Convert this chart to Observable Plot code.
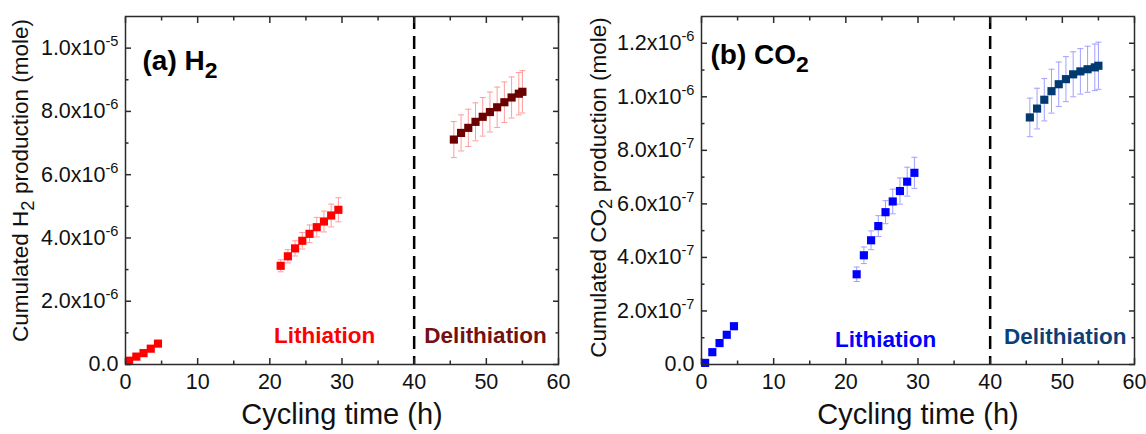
<!DOCTYPE html>
<html><head><meta charset="utf-8">
<script src="https://cdn.jsdelivr.net/npm/d3@7"></script>
<script src="https://cdn.jsdelivr.net/npm/@observablehq/plot@0.6"></script>
<style>
html,body{margin:0;padding:0;background:#fff}
#wrap{display:flex;width:1146px;height:434px;overflow:hidden}
</style>
</head><body><div id="wrap"></div>
<script>
// ---------- data ----------
const xTicksMajor = [0, 10, 20, 30, 40, 50, 60];
const xTicksMinor = [5, 15, 25, 35, 45, 55];
const phaseBoundary = 40;

// (a) H2
const h2TimeStart = [0.5, 1.5, 2.5, 3.5, 4.5];
const h2ValStart  = [1.2e-7, 2.5e-7, 3.6e-7, 5.0e-7, 6.6e-7];
const h2ErrStart  = [1e-8, 2e-8, 2e-8, 3e-8, 3e-8];
const h2TimeLith  = [21.5, 22.5, 23.5, 24.5, 25.5, 26.5, 27.5, 28.5, 29.5];
const h2ValLith   = [3.12e-6, 3.42e-6, 3.67e-6, 3.91e-6, 4.13e-6, 4.34e-6, 4.52e-6, 4.71e-6, 4.89e-6];
const h2ErrLith   = [0.19e-6, 0.21e-6, 0.24e-6, 0.26e-6, 0.28e-6, 0.31e-6, 0.33e-6, 0.36e-6, 0.38e-6];
const h2TimeDelith = [45.5, 46.5, 47.5, 48.5, 49.5, 50.5, 51.5, 52.5, 53.5, 54.5, 55.0];
const h2ValDelith  = [7.11e-6, 7.32e-6, 7.48e-6, 7.67e-6, 7.83e-6, 7.98e-6, 8.13e-6, 8.29e-6, 8.44e-6, 8.56e-6, 8.62e-6];
const h2ErrDelith  = [0.57e-6, 0.57e-6, 0.59e-6, 0.60e-6, 0.61e-6, 0.63e-6, 0.64e-6, 0.64e-6, 0.65e-6, 0.67e-6, 0.67e-6];
const h2YDomain = [0, 1.1e-5];
const h2YMajor = [0, 2e-6, 4e-6, 6e-6, 8e-6, 1e-5];
const h2YMinor = [1e-6, 3e-6, 5e-6, 7e-6, 9e-6];
const h2Title = "(a) H_{2}";
const h2YLabel = "Cumulated H_{2} production (mole)";
const h2Notes = [
  {x: 27.6, y: 0.92e-6, label: "Lithiation", phase: "lith"},
  {x: 49.9, y: 0.92e-6, label: "Delithiation", phase: "delith"}
];

// (b) CO2
const co2TimeStart = [0.5, 1.5, 2.5, 3.5, 4.5];
const co2ValStart  = [6e-9, 4.6e-8, 8.0e-8, 1.11e-7, 1.43e-7];
const co2ErrStart  = [2e-9, 3e-9, 3e-9, 4e-9, 4e-9];
const co2TimeLith  = [21.5, 22.5, 23.5, 24.5, 25.5, 26.5, 27.5, 28.5, 29.5];
const co2ValLith   = [3.37e-7, 4.08e-7, 4.64e-7, 5.17e-7, 5.69e-7, 6.09e-7, 6.48e-7, 6.83e-7, 7.16e-7];
const co2ErrLith   = [0.27e-7, 0.31e-7, 0.35e-7, 0.39e-7, 0.43e-7, 0.46e-7, 0.49e-7, 0.54e-7, 0.58e-7];
const co2TimeDelith = [45.5, 46.5, 47.5, 48.5, 49.5, 50.5, 51.5, 52.5, 53.5, 54.5, 55.0];
const co2ValDelith  = [9.23e-7, 9.56e-7, 9.89e-7, 10.21e-7, 10.47e-7, 10.66e-7, 10.84e-7, 10.95e-7, 11.03e-7, 11.10e-7, 11.16e-7];
const co2ErrDelith  = [0.72e-7, 0.76e-7, 0.79e-7, 0.82e-7, 0.83e-7, 0.84e-7, 0.84e-7, 0.85e-7, 0.86e-7, 0.87e-7, 0.88e-7];
const co2YDomain = [0, 1.3e-6];
const co2YMajor = [0, 2e-7, 4e-7, 6e-7, 8e-7, 1.0e-6, 1.2e-6];
const co2YMinor = [1e-7, 3e-7, 5e-7, 7e-7, 9e-7, 1.1e-6];
const co2Title = "(b) CO_{2}";
const co2YLabel = "Cumulated CO_{2} production (mole)";
const co2Notes = [
  {x: 25.5, y: 0.93e-7, label: "Lithiation", phase: "lith"},
  {x: 50.4, y: 1.02e-7, label: "Delithiation", phase: "delith"}
];
const xLabel = "Cycling time (h)";

// ---------- helpers ----------
const zip = (t, v, e, phase) => t.map((d, i) => ({t: d, v: v[i], e: e[i], phase}));
const FONT = '"Liberation Sans", Arial, Helvetica, sans-serif';
const INK = "#2b2b2b";

function sciFormat(d) {
  if (d === 0) return "0.0";
  const e = Math.floor(Math.log10(d) + 1e-9);
  const m = d / Math.pow(10, e);
  return `${m.toFixed(1)}x10^{${e}}`;
}

const capSymbol = {
  draw(ctx, size) {
    const w = Math.sqrt(size / Math.PI);
    ctx.moveTo(-w, 0); ctx.lineTo(w, 0);
  }
};

function richify(svg) {
  const NS = "http://www.w3.org/2000/svg";
  svg.querySelectorAll("text").forEach(t => {
    if (t.querySelector("tspan")) return;
    const s = t.textContent;
    if (!/[_^]\{/.test(s)) return;
    const parts = s.split(/([_^]\{[^}]*\})/).filter(p => p);
    while (t.firstChild) t.removeChild(t.firstChild);
    let shift = 0;
    parts.forEach(p => {
      const ts = document.createElementNS(NS, "tspan");
      let target = 0, scale = 1, txt = p;
      if (p.startsWith("_{")) { target = 0.28; scale = 0.82; txt = p.slice(2, -1); }
      else if (p.startsWith("^{")) { target = -0.42; scale = 0.68; txt = p.slice(2, -1); }
      const delta = target - shift;
      if (delta) ts.setAttribute("dy", (delta / scale).toFixed(3) + "em");
      if (scale !== 1) ts.setAttribute("font-size", scale + "em");
      ts.textContent = txt;
      shift = target;
      t.appendChild(ts);
    });
  });
}

function panel(cfg) {
  const all = [...cfg.start, ...cfg.lith, ...cfg.delith];
  const colorOf = d => d.phase === "delith" ? cfg.delithColor : cfg.lithColor;
  const noteColor = d => d.phase === "delith" ? cfg.delithText : cfg.lithColor;
  const tickStyle = {stroke: INK, strokeWidth: 1.5, label: null};
  const svg = Plot.plot({
    width: 573, height: 434,
    marginLeft: cfg.ml, marginRight: cfg.mr, marginTop: 16, marginBottom: 70,
    style: {fontFamily: FONT, fontSize: "21px", background: "#fff", color: "#111", overflow: "visible"},
    x: {domain: [0, 60]},
    y: {domain: cfg.yDomain},
    marks: [
      // error bars
      Plot.ruleX(all, {x: "t", y1: d => d.v - d.e, y2: d => d.v + d.e, stroke: cfg.errColor, strokeWidth: 1}),
      Plot.dot(all, {x: "t", y: d => d.v + d.e, symbol: capSymbol, r: 3, stroke: cfg.errColor, fill: "none", strokeWidth: 1}),
      Plot.dot(all, {x: "t", y: d => d.v - d.e, symbol: capSymbol, r: 3, stroke: cfg.errColor, fill: "none", strokeWidth: 1}),
      // points
      Plot.dot(all, {x: "t", y: "v", symbol: "square", r: 4.6, fill: colorOf, stroke: "none"}),
      // boundary
      Plot.ruleX([phaseBoundary], {stroke: "#000", strokeWidth: 2.5, strokeDasharray: "13,7"}),
      // axes
      Plot.axisX(xTicksMajor, {anchor: "bottom", tickSize: -6, tickPadding: 15, fontSize: 21.5, ...tickStyle, tickFormat: d => String(d)}),
      Plot.axisX(xTicksMajor, {anchor: "top", tickSize: -6, ...tickStyle, tickFormat: () => ""}),
      Plot.axisX(xTicksMinor, {anchor: "bottom", tickSize: -3.5, ...tickStyle, tickFormat: () => ""}),
      Plot.axisX(xTicksMinor, {anchor: "top", tickSize: -3.5, ...tickStyle, tickFormat: () => ""}),
      Plot.axisY(cfg.yMajor, {anchor: "left", tickSize: -6, tickPadding: 13, fontSize: 21.5, ...tickStyle, tickFormat: sciFormat}),
      Plot.axisY(cfg.yMajor, {anchor: "right", tickSize: -6, ...tickStyle, tickFormat: () => ""}),
      Plot.axisY(cfg.yMinor, {anchor: "left", tickSize: -3.5, ...tickStyle, tickFormat: () => ""}),
      Plot.axisY(cfg.yMinor, {anchor: "right", tickSize: -3.5, ...tickStyle, tickFormat: () => ""}),
      Plot.frame({stroke: INK, strokeWidth: 1.5}),
      // texts
      Plot.text([cfg.title], {text: d => d, frameAnchor: "top-left", textAnchor: "start", dx: cfg.titleDx, dy: cfg.titleDy, fontSize: 28, fontWeight: "bold", fill: "#000"}),
      Plot.text([cfg.yLabel], {text: d => d, frameAnchor: "left", textAnchor: "middle", rotate: -90, dx: cfg.yLabelDx, dy: cfg.yLabelDy, fontSize: 22.5, fill: "#111"}),
      Plot.text([xLabel], {text: d => d, frameAnchor: "bottom", textAnchor: "middle", dy: 59, fontSize: 29, fill: "#111"}),
      Plot.text(cfg.notes, {x: "x", y: "y", text: "label", fill: noteColor, fontSize: 22.5, fontWeight: "bold"})
    ]
  });
  richify(svg);
  return svg;
}

const wrap = document.getElementById("wrap");
wrap.appendChild(panel({
  start: zip(h2TimeStart, h2ValStart, h2ErrStart, "lith"),
  lith: zip(h2TimeLith, h2ValLith, h2ErrLith, "lith"),
  delith: zip(h2TimeDelith, h2ValDelith, h2ErrDelith, "delith"),
  lithColor: "#ff0000", delithColor: "#6a0000", delithText: "#741010", errColor: "#ff9c9c",
  yDomain: h2YDomain, yMajor: h2YMajor, yMinor: h2YMinor,
  ml: 125, mr: 15, title: h2Title, titleDx: 17, titleDy: 34,
  yLabel: h2YLabel, yLabelDx: -105, yLabelDy: -10, notes: h2Notes
}));
wrap.appendChild(panel({
  start: zip(co2TimeStart, co2ValStart, co2ErrStart, "lith"),
  lith: zip(co2TimeLith, co2ValLith, co2ErrLith, "lith"),
  delith: zip(co2TimeDelith, co2ValDelith, co2ErrDelith, "delith"),
  lithColor: "#0000ff", delithColor: "#003a70", delithText: "#0b3f78", errColor: "#a0a0ff",
  yDomain: co2YDomain, yMajor: co2YMajor, yMinor: co2YMinor,
  ml: 128, mr: 12, title: co2Title, titleDx: 9, titleDy: 28,
  yLabel: co2YLabel, yLabelDx: -103, yLabelDy: -3, notes: co2Notes
}));
</script></body></html>
